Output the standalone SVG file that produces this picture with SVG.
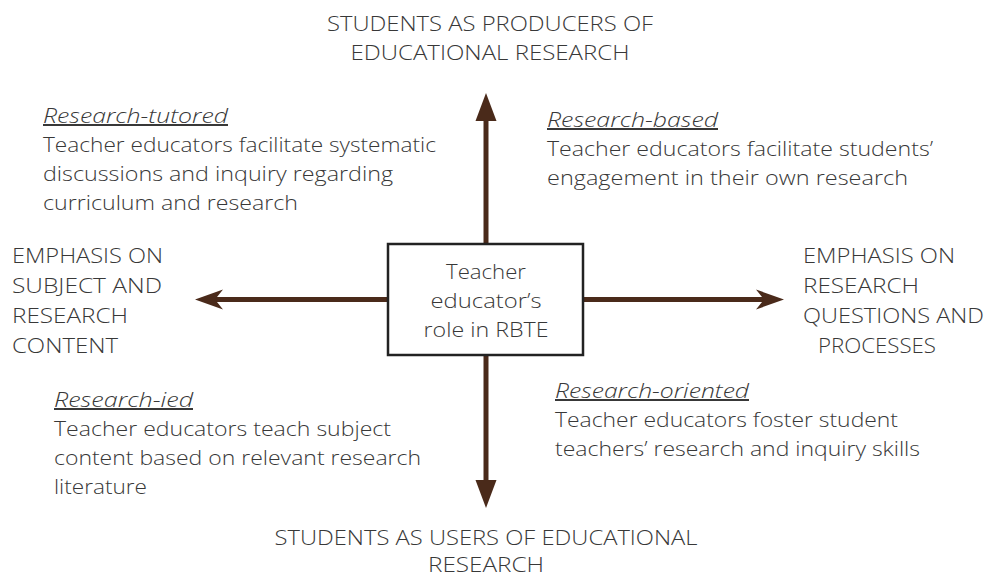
<svg xmlns="http://www.w3.org/2000/svg" width="987" height="577" viewBox="0 0 987 577">
  <defs>
    <style>
      text { font-family: "Open Sans", "Liberation Sans", sans-serif; font-size: 20px; font-weight: 300; fill: #383838; }
      .label { font-style: italic; text-decoration: underline; }
      .mid { text-anchor: middle; }
      .axis { stroke: #4a2a1a; stroke-width: 5; fill: none; }
      .box { fill: #ffffff; stroke: #222222; stroke-width: 2.5; }
    </style>
    <!-- notched head for the horizontal axis -->
    <marker id="headH" markerUnits="userSpaceOnUse" markerWidth="30" markerHeight="22" viewBox="0 -11 30 22" refX="8" refY="0" orient="auto">
      <path d="M0,-10 L28,0 L0,10 L8,0 Z" fill="#4a2a1a"/>
    </marker>
    <!-- plain triangle head for the vertical axis -->
    <marker id="headV" markerUnits="userSpaceOnUse" markerWidth="30" markerHeight="24" viewBox="0 -12 30 24" refX="1" refY="0" orient="auto">
      <path d="M0,-10.5 L28,0 L0,10.5 Z" fill="#4a2a1a"/>
    </marker>
  </defs>
  <rect width="987" height="577" fill="#ffffff"/>

  <g id="connectors">
    <line class="axis" x1="486" y1="244" x2="486" y2="120" marker-end="url(#headV)"/>
    <line class="axis" x1="486" y1="355" x2="486" y2="481" marker-end="url(#headV)"/>
    <line class="axis" x1="388" y1="299.5" x2="215" y2="299.5" marker-end="url(#headH)"/>
    <line class="axis" x1="583" y1="299.5" x2="764" y2="299.5" marker-end="url(#headH)"/>
  </g>

  <g id="center">
    <rect class="box" x="388" y="244" width="195" height="111"/>
    <text class="mid" x="486" y="279" textLength="80" lengthAdjust="spacingAndGlyphs">Teacher</text>
    <text class="mid" x="486" y="308" textLength="111" lengthAdjust="spacingAndGlyphs">educator’s</text>
    <text class="mid" x="486" y="337" textLength="125" lengthAdjust="spacingAndGlyphs">role in RBTE</text>
  </g>

  <g id="top-pole">
    <text class="mid" x="490" y="31" textLength="326" lengthAdjust="spacingAndGlyphs">STUDENTS AS PRODUCERS OF</text>
    <text class="mid" x="490" y="60" textLength="279" lengthAdjust="spacingAndGlyphs">EDUCATIONAL RESEARCH</text>
  </g>

  <g id="bottom-pole">
    <text class="mid" x="486" y="545" textLength="423" lengthAdjust="spacingAndGlyphs">STUDENTS AS USERS OF EDUCATIONAL</text>
    <text class="mid" x="486" y="571.5" textLength="116" lengthAdjust="spacingAndGlyphs">RESEARCH</text>
  </g>

  <g id="left-pole">
    <text x="12" y="263" textLength="151" lengthAdjust="spacingAndGlyphs">EMPHASIS ON</text>
    <text x="12" y="293" textLength="150" lengthAdjust="spacingAndGlyphs">SUBJECT AND</text>
    <text x="12" y="323" textLength="116" lengthAdjust="spacingAndGlyphs">RESEARCH</text>
    <text x="12" y="353" textLength="106" lengthAdjust="spacingAndGlyphs">CONTENT</text>
  </g>

  <g id="right-pole">
    <text x="803" y="263" textLength="152" lengthAdjust="spacingAndGlyphs">EMPHASIS ON</text>
    <text x="803" y="293" textLength="116" lengthAdjust="spacingAndGlyphs">RESEARCH</text>
    <text x="803" y="323" textLength="181" lengthAdjust="spacingAndGlyphs">QUESTIONS AND</text>
    <text x="818" y="353" textLength="118" lengthAdjust="spacingAndGlyphs">PROCESSES</text>
  </g>

  <g id="research-tutored">
    <text class="label" x="43" y="123" textLength="185" lengthAdjust="spacingAndGlyphs">Research-tutored</text>
    <text x="43" y="152" textLength="393" lengthAdjust="spacingAndGlyphs">Teacher educators facilitate systematic</text>
    <text x="43" y="181" textLength="350" lengthAdjust="spacingAndGlyphs">discussions and inquiry regarding</text>
    <text x="43" y="210" textLength="255" lengthAdjust="spacingAndGlyphs">curriculum and research</text>
  </g>

  <g id="research-based">
    <text class="label" x="547" y="127" textLength="171" lengthAdjust="spacingAndGlyphs">Research-based</text>
    <text x="547" y="156" textLength="386" lengthAdjust="spacingAndGlyphs">Teacher educators facilitate students’</text>
    <text x="547" y="185" textLength="361" lengthAdjust="spacingAndGlyphs">engagement in their own research</text>
  </g>

  <g id="research-led">
    <text class="label" x="54" y="407" textLength="139" lengthAdjust="spacingAndGlyphs">Research-ied</text>
    <text x="54" y="436" textLength="337" lengthAdjust="spacingAndGlyphs">Teacher educators teach subject</text>
    <text x="54" y="465" textLength="367" lengthAdjust="spacingAndGlyphs">content based on relevant research</text>
    <text x="54" y="494" textLength="93" lengthAdjust="spacingAndGlyphs">literature</text>
  </g>

  <g id="research-oriented">
    <text class="label" x="555" y="398" textLength="194" lengthAdjust="spacingAndGlyphs">Research-oriented</text>
    <text x="555" y="427" textLength="343" lengthAdjust="spacingAndGlyphs">Teacher educators foster student</text>
    <text x="555" y="456" textLength="365" lengthAdjust="spacingAndGlyphs">teachers’ research and inquiry skills</text>
  </g>
</svg>
